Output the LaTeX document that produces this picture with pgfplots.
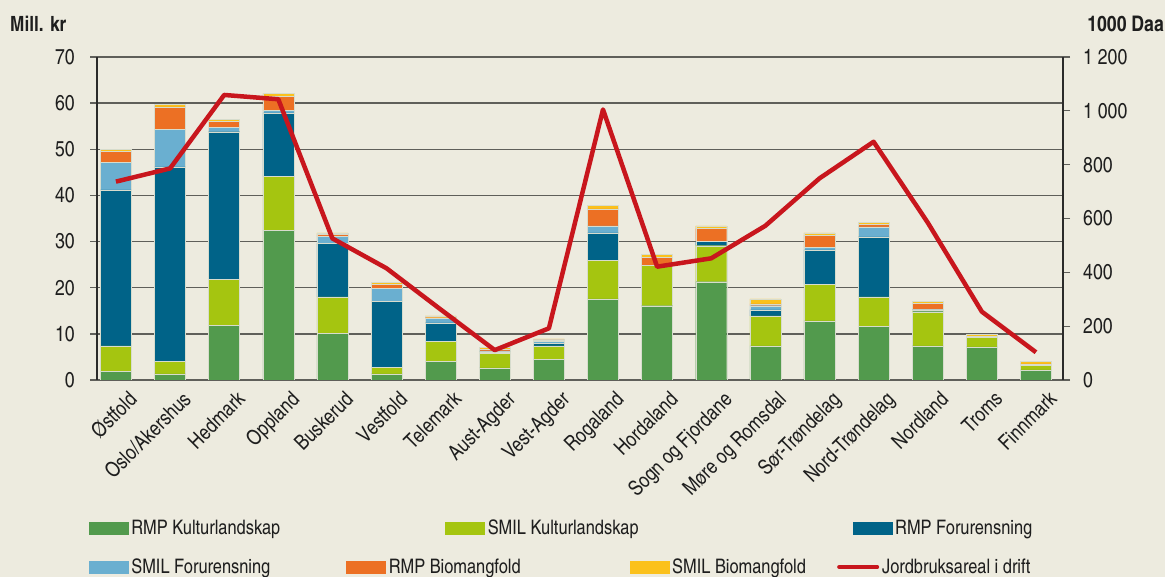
\documentclass[border=0pt]{standalone}
\usepackage{pgfplots}
\pgfplotsset{compat=1.18}
\usepackage{fontspec}
\setmainfont{texgyreheroscn}[Extension=.otf, UprightFont=*-regular, BoldFont=*-bold, ItalicFont=*-italic, BoldItalicFont=*-bolditalic]
\definecolor{bgc}{RGB}{237,235,223}
\definecolor{cA}{RGB}{82,154,77}
\definecolor{cB}{RGB}{165,197,16}
\definecolor{cC}{RGB}{0,99,136}
\definecolor{cD}{RGB}{106,175,208}
\definecolor{cE}{RGB}{236,112,36}
\definecolor{cF}{RGB}{251,193,28}
\definecolor{cL}{RGB}{200,22,29}
\definecolor{gridc}{RGB}{95,95,90}
\definecolor{txt}{RGB}{30,30,30}
\pgfplotstableread{
x A B C D E F
0 1.8 5.6 33.8 6.0 2.3 0.5
1 1.3 2.8 42.1 8.1 4.9 0.6
2 11.9 9.9 32.0 1.0 1.2 0.5
3 32.4 11.7 13.8 0.5 3.1 0.6
4 10.1 7.9 11.6 1.5 0.4 0.4
5 1.3 1.4 14.3 2.9 0.8 0.5
6 4.1 4.2 4.1 0.9 0.2 0.4
7 2.6 3.2 0.3 0.2 0.3 0.4
8 4.5 2.9 0.5 0.4 0.4 0.2
9 17.6 8.3 6.0 1.5 3.7 0.8
10 16.1 8.8 0.0 0.0 1.7 0.6
11 21.3 7.8 0.9 0.1 2.7 0.6
12 7.4 6.5 1.3 0.9 0.4 1.1
13 12.8 8.0 7.4 0.6 2.6 0.5
14 11.6 6.4 13.0 2.2 0.5 0.5
15 7.4 7.4 0.4 0.1 1.3 0.5
16 7.2 2.0 0.05 0.05 0.15 0.4
17 2.2 0.9 0.05 0.05 0.3 0.6
}\bars
\newcommand{\lgbox}[1]{\fill[#1] (0pt,-6pt) rectangle (39pt,6pt);}
\begin{document}
\begin{tikzpicture}[x=1pt,y=1pt]
\useasboundingbox (0,0) rectangle (1165,577);
\fill[bgc] (0,0) rectangle (1165,577);
\begin{axis}[
  at={(97pt,197pt)}, anchor=south west,
  scale only axis, width=966pt, height=323pt,
  xmin=-0.35, xmax=17.5, ymin=0, ymax=70,
  ybar stacked, bar width=31pt,
  axis x line*=bottom, axis y line*=left,
  x axis line style={gridc, line width=1.3pt},
  y axis line style={txt!80!gridc, line width=1.1pt},
  ytick={0,10,...,70},
  ymajorgrids, grid style={gridc, line width=1.3pt},
  tick align=outside, major tick length=7pt,
  ytick style={gridc, line width=1.3pt},
  xtick={0,...,17}, xtick style={draw=none},
  xticklabels={Østfold,Oslo/Akershus,Hedmark,Oppland,Buskerud,Vestfold,Telemark,Aust-Agder,Vest-Agder,Rogaland,Hordaland,Sogn og Fjordane,Møre og Romsdal,Sør-Trøndelag,Nord-Trøndelag,Nordland,Troms,Finnmark},
  xticklabel style={rotate=45, anchor=north east, font=\fontsize{21}{24}\selectfont, text=txt, inner sep=0pt, xshift=6pt, yshift=-10pt},
  yticklabel style={font=\fontsize{21.5}{25}\selectfont, text=txt, inner sep=0pt, xshift=-15pt},
  /pgf/number format/assume math mode=true,
  legend style={at={(axis description cs:-0.0083,-0.4582)}, anchor=west, draw=none, fill=none, inner sep=0pt, outer sep=0pt,
    column sep=0pt, font=\fontsize{20}{23}\selectfont, text=txt,
    nodes={inner sep=0pt, anchor=west},
    /tikz/every odd column/.append style={column sep=3pt}},
  legend columns=3,
  every axis plot/.append style={draw={rgb,255:red,215;green,220;blue,205}, line width=0.4pt},
]
\addplot[fill=cA, legend image code/.code={\lgbox{cA}}] table[x=x,y=A]{\bars};
\addplot[fill=cB, legend image code/.code={\lgbox{cB}}] table[x=x,y=B]{\bars};
\addplot[fill=cC, legend image code/.code={\lgbox{cC}}] table[x=x,y=C]{\bars};
\addplot[fill=cD] table[x=x,y=D]{\bars};
\addplot[fill=cE] table[x=x,y=E]{\bars};
\addplot[fill=cF] table[x=x,y=F]{\bars};
\legend{\makebox[314pt][l]{RMP Kulturlandskap},\makebox[365pt][l]{SMIL Kulturlandskap},RMP Forurensning}
\end{axis}
\begin{axis}[
  at={(97pt,197pt)}, anchor=south west,
  scale only axis, width=966pt, height=323pt,
  xmin=-0.35, xmax=17.5, ymin=0, ymax=1200,
  axis x line=none, axis y line*=right,
  y axis line style={txt!80!gridc, line width=1.1pt},
  ytick={0,200,...,1200},
  tick align=outside, major tick length=7pt,
  ytick style={gridc, line width=1.3pt},
  yticklabel style={font=\fontsize{21.5}{25}\selectfont, text=txt, inner sep=0pt, xshift=13pt},
  /pgf/number format/assume math mode=true,
  /pgf/number format/1000 sep={\ },
  legend style={at={(axis description cs:-0.0083,-0.5789)}, anchor=west, draw=none, fill=none, inner sep=0pt, outer sep=0pt,
    column sep=0pt, font=\fontsize{20}{23}\selectfont, text=txt,
    nodes={inner sep=0pt, anchor=west},
    /tikz/every odd column/.append style={column sep=3pt}},
  legend columns=4,
]
\addlegendimage{legend image code/.code={\lgbox{cD}}}
\addlegendimage{legend image code/.code={\lgbox{cE}}}
\addlegendimage{legend image code/.code={\lgbox{cF}}}
\addplot[cL, line width=4.5pt, line join=round, legend image code/.code={\draw[cL, line width=4pt, line cap=round] (2pt,0pt) -- (40pt,0pt);}] coordinates {
(0,737) (1,786) (2,1059) (3,1043) (4,526) (5,415) (6,262) (7,111) (8,192) (9,1005)
(10,421) (11,452) (12,573) (13,749) (14,885) (15,585) (16,254) (17,103)};
\legend{\makebox[215pt][l]{SMIL Forurensning},\makebox[241pt][l]{RMP Biomangfold},\makebox[165pt][l]{SMIL Biomangfold},Jordbruksareal i drift}
\end{axis}
\node[anchor=west, font=\bfseries\fontsize{21}{24}\selectfont, text=txt, inner sep=0pt] at (10,553) {Mill. kr};
\node[anchor=east, font=\bfseries\fontsize{21.5}{24}\selectfont, text=txt, inner sep=0pt] at (1164,553) {1000 Daa};
\end{tikzpicture}
\end{document}
